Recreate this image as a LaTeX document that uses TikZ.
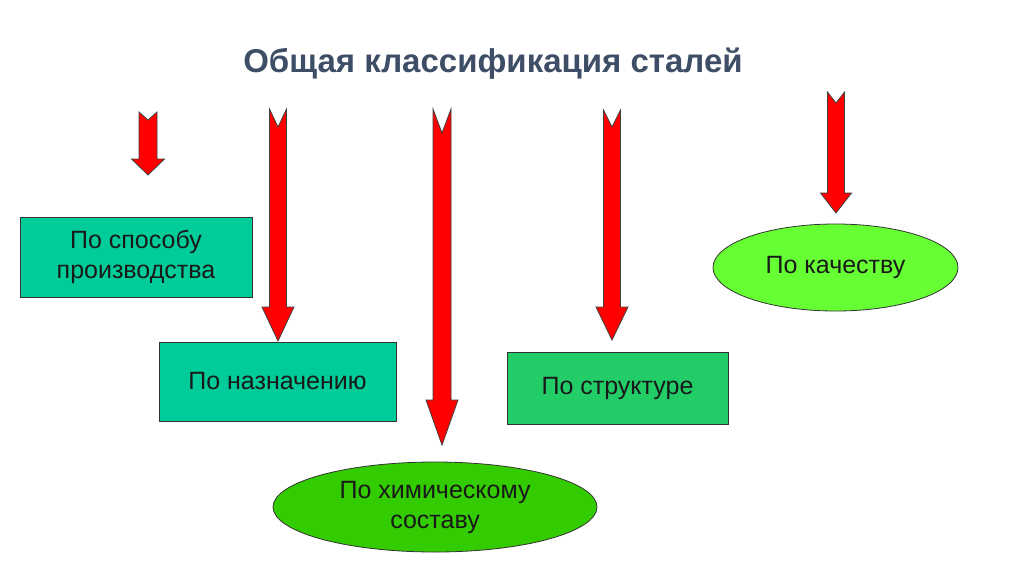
\documentclass[tikz,border=0pt]{standalone}
\usepackage{fontspec}
\setmainfont{Liberation Sans}
\usetikzlibrary{shapes.geometric}
\definecolor{titlecol}{HTML}{3D4E66}
\definecolor{tealbox}{HTML}{00CC99}
\definecolor{greenbox}{HTML}{22CC66}
\definecolor{lightell}{HTML}{66FF33}
\definecolor{darkell}{HTML}{33CC00}
\definecolor{arrred}{HTML}{FF0000}
\tikzset{
  catbox/.style={draw=black!80, line width=0.8pt, rectangle, inner sep=0pt, align=center,
    font=\fontsize{25}{30}\selectfont, text=black!90},
  catell/.style={draw=black!80, line width=0.8pt, ellipse, inner sep=0pt, align=center,
    font=\fontsize{25}{30}\selectfont, text=black!90},
  blockarr/.style={fill=arrred, draw=black!75, line width=0.8pt, line join=miter}
}
% #1 center x, #2 top y, #3 notch y, #4 head start y, #5 tip y, #6 shaft half width, #7 head half width
\newcommand{\notcharrow}[7]{%
  \draw[blockarr] (#1-#6,#2) -- (#1,#3) -- (#1+#6,#2) -- (#1+#6,#4) -- (#1+#7,#4)
    -- (#1,#5) -- (#1-#7,#4) -- (#1-#6,#4) -- cycle;}
\begin{document}
\begin{tikzpicture}[x=1pt,y=-1pt]
\useasboundingbox (0,0) rectangle (1024,574);
\fill[white] (0,0) rectangle (1024,574);
\node[font=\fontsize{33}{38}\bfseries\selectfont, text=titlecol, anchor=base] (title) at (493,72) {Общая классификация сталей};

\node[catbox, fill=tealbox, minimum width=232pt, minimum height=80pt] (prod) at (136,257) {По способу\\производства};
\node[catbox, fill=tealbox, minimum width=237pt, minimum height=79pt] (purp) at (277.5,381.5) {По назначению};
\node[catbox, fill=greenbox, minimum width=221pt, minimum height=72pt] (struct) at (617.5,388) {По структуре};
\node[catell, fill=lightell, minimum width=245pt, minimum height=87pt] (qual) at (835.5,267.5) {По качеству};
\node[catell, fill=darkell, minimum width=324pt, minimum height=90pt] (chem) at (435,507) {По химическому\\составу};

\notcharrow{148}{112}{120}{159}{175}{9}{16.5}
\notcharrow{278}{109}{127}{307}{341}{8.5}{16}
\notcharrow{442}{109}{133}{400}{445}{9}{16}
\notcharrow{612}{110}{127}{307}{340}{8.5}{16}
\notcharrow{836}{92}{103}{193}{213}{8.5}{15.5}
\end{tikzpicture}
\end{document}
